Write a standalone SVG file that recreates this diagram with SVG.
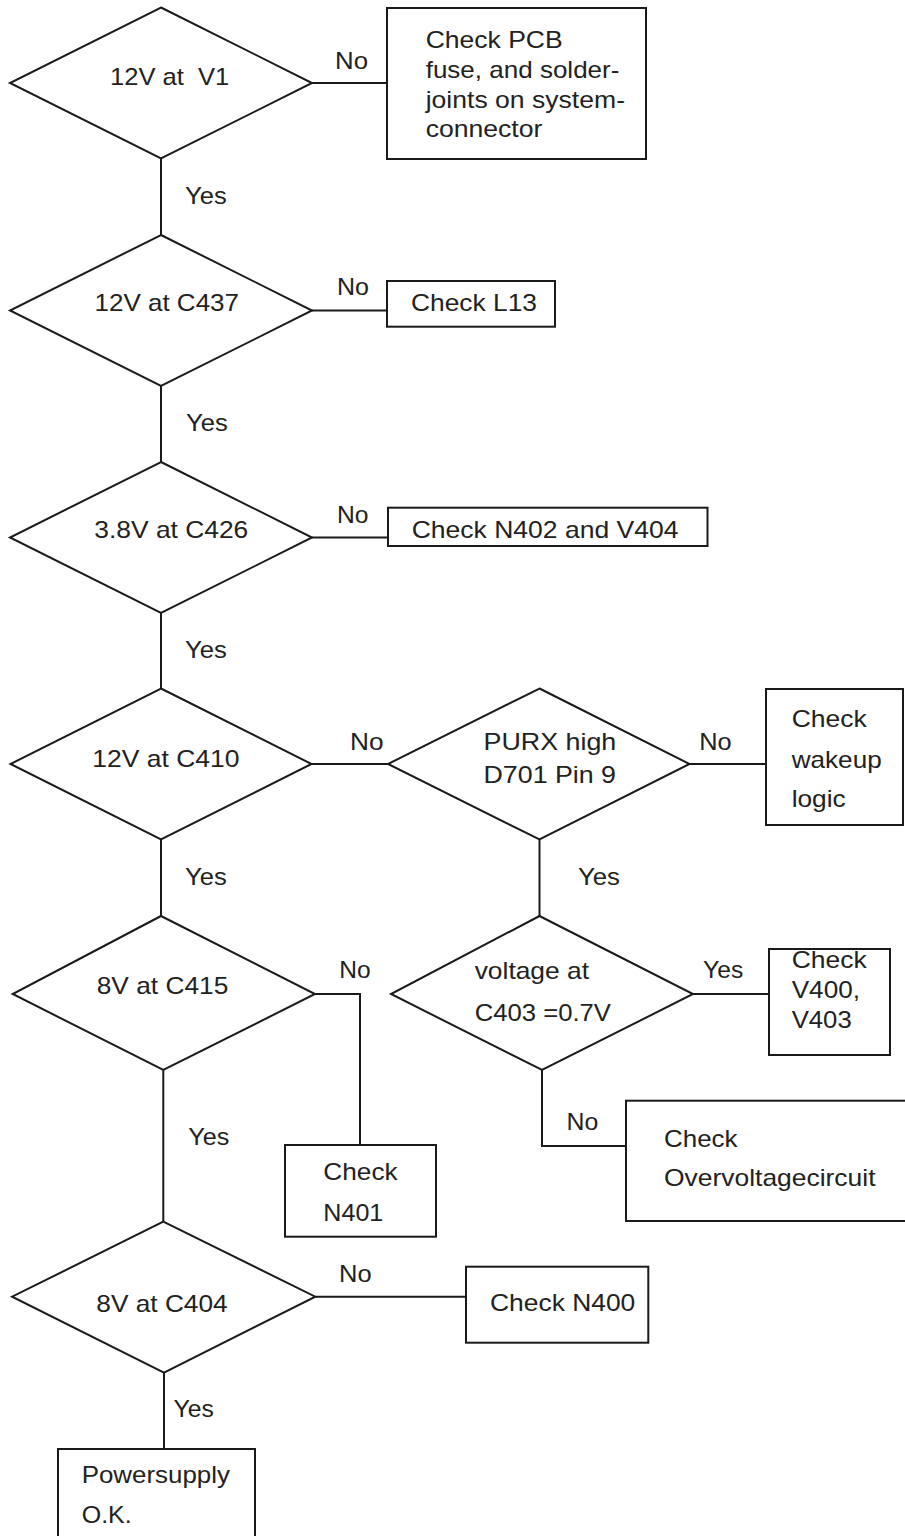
<svg xmlns="http://www.w3.org/2000/svg" width="905" height="1536" viewBox="0 0 905 1536">
  <style>
    .shape { fill: none; stroke: #1a1a1a; stroke-width: 2; stroke-linejoin: miter; }
    .wire { fill: none; stroke: #1a1a1a; stroke-width: 2; }
    .t { font-family: "Liberation Sans", Arial, sans-serif; font-size: 24px; fill: #222; }
  </style>
  <rect x="0" y="0" width="905" height="1536" fill="#ffffff"/>

  <!-- connectors -->
  <g id="connectors">
    <path class="wire" d="M312,83 H387"/>
    <path class="wire" d="M161,158.5 V235"/>
    <path class="wire" d="M312,310.5 H387"/>
    <path class="wire" d="M161,386 V462"/>
    <path class="wire" d="M312,537.5 H388"/>
    <path class="wire" d="M161,613 V688.5"/>
    <path class="wire" d="M311.5,764 H388"/>
    <path class="wire" d="M689.5,764 H766"/>
    <path class="wire" d="M161,839.5 V916"/>
    <path class="wire" d="M539.5,839.5 V916"/>
    <path class="wire" d="M693,994 H769"/>
    <path class="wire" d="M542,1070 V1146 H626"/>
    <path class="wire" d="M315,994 H360 V1145"/>
    <path class="wire" d="M163.3,1070 V1221.7"/>
    <path class="wire" d="M315.3,1296.7 H466"/>
    <path class="wire" d="M164,1372.7 V1449"/>
    <!-- branch labels -->
    <text class="t" x="335" y="69.3" textLength="33" lengthAdjust="spacingAndGlyphs">No</text>
    <text class="t" x="185" y="204.3" textLength="41.7" lengthAdjust="spacingAndGlyphs">Yes</text>
    <text class="t" x="337" y="295" textLength="32" lengthAdjust="spacingAndGlyphs">No</text>
    <text class="t" x="186" y="430.5" textLength="41.7" lengthAdjust="spacingAndGlyphs">Yes</text>
    <text class="t" x="337" y="522.7" textLength="31.5" lengthAdjust="spacingAndGlyphs">No</text>
    <text class="t" x="185" y="658" textLength="41.7" lengthAdjust="spacingAndGlyphs">Yes</text>
    <text class="t" x="350" y="750" textLength="33.5" lengthAdjust="spacingAndGlyphs">No</text>
    <text class="t" x="699.3" y="750" textLength="32.4" lengthAdjust="spacingAndGlyphs">No</text>
    <text class="t" x="185" y="885" textLength="41.7" lengthAdjust="spacingAndGlyphs">Yes</text>
    <text class="t" x="578" y="885" textLength="42" lengthAdjust="spacingAndGlyphs">Yes</text>
    <text class="t" x="339.3" y="977.7" textLength="31.4" lengthAdjust="spacingAndGlyphs">No</text>
    <text class="t" x="703" y="977.7" textLength="40.2" lengthAdjust="spacingAndGlyphs">Yes</text>
    <text class="t" x="566.5" y="1130" textLength="31.8" lengthAdjust="spacingAndGlyphs">No</text>
    <text class="t" x="188.3" y="1145" textLength="41" lengthAdjust="spacingAndGlyphs">Yes</text>
    <text class="t" x="339" y="1281.7" textLength="32.6" lengthAdjust="spacingAndGlyphs">No</text>
    <text class="t" x="173.5" y="1416.7" textLength="40.3" lengthAdjust="spacingAndGlyphs">Yes</text>
  </g>

  <!-- decisions -->
  <g id="d-v1">
    <polygon class="shape" points="161,7.5 312,83 161,158.5 10,83"/>
    <text class="t" x="110" y="85" textLength="119.3" lengthAdjust="spacingAndGlyphs">12V at&#160; V1</text>
  </g>
  <g id="d-c437">
    <polygon class="shape" points="161,235 312,310.5 161,386 10,310.5"/>
    <text class="t" x="94.5" y="311" textLength="144.5" lengthAdjust="spacingAndGlyphs">12V at C437</text>
  </g>
  <g id="d-c426">
    <polygon class="shape" points="161,462 312,537.5 161,613 10,537.5"/>
    <text class="t" x="94.3" y="538.3" textLength="154" lengthAdjust="spacingAndGlyphs">3.8V at C426</text>
  </g>
  <g id="d-c410">
    <polygon class="shape" points="161,688.5 311.5,764 161,839.5 10.5,764"/>
    <text class="t" x="92.3" y="767.3" textLength="147.2" lengthAdjust="spacingAndGlyphs">12V at C410</text>
  </g>
  <g id="d-purx">
    <polygon class="shape" points="539.5,688.5 689.5,764 539.5,839.5 388,764"/>
    <text class="t" x="483.5" y="750" textLength="132.8" lengthAdjust="spacingAndGlyphs">PURX high</text>
    <text class="t" x="483.5" y="782.7" textLength="132.5" lengthAdjust="spacingAndGlyphs">D701 Pin 9</text>
  </g>
  <g id="d-c403">
    <polygon class="shape" points="539.5,916 693,994 542,1070 391,994"/>
    <text class="t" x="474.7" y="979.3" textLength="114.3" lengthAdjust="spacingAndGlyphs">voltage at</text>
    <text class="t" x="474.7" y="1021" textLength="136.3" lengthAdjust="spacingAndGlyphs">C403 =0.7V</text>
  </g>
  <g id="d-c415">
    <polygon class="shape" points="161,916 315,994 163.3,1070 12.7,994"/>
    <text class="t" x="96.7" y="994.3" textLength="131.6" lengthAdjust="spacingAndGlyphs">8V at C415</text>
  </g>
  <g id="d-c404">
    <polygon class="shape" points="163.3,1221.7 315.3,1296.7 164,1372.7 12.1,1296.7"/>
    <text class="t" x="96.3" y="1311.7" textLength="131.4" lengthAdjust="spacingAndGlyphs">8V at C404</text>
  </g>

  <!-- actions -->
  <g id="b-fuse">
    <rect class="shape" x="387" y="8" width="259" height="151"/>
    <text class="t" x="425.7" y="48.3" textLength="137" lengthAdjust="spacingAndGlyphs">Check PCB</text>
    <text class="t" x="425.7" y="78.3" textLength="193.7" lengthAdjust="spacingAndGlyphs">fuse, and solder-</text>
    <text class="t" x="425.7" y="107.7" textLength="199.3" lengthAdjust="spacingAndGlyphs">joints on system-</text>
    <text class="t" x="425.7" y="137.3" textLength="116.7" lengthAdjust="spacingAndGlyphs">connector</text>
  </g>
  <g id="b-l13">
    <rect class="shape" x="387" y="281" width="168" height="45.7"/>
    <text class="t" x="411" y="311" textLength="126" lengthAdjust="spacingAndGlyphs">Check L13</text>
  </g>
  <g id="b-n402">
    <rect class="shape" x="388" y="507.7" width="319.5" height="38.3"/>
    <text class="t" x="411.7" y="538.3" textLength="266.8" lengthAdjust="spacingAndGlyphs">Check N402 and V404</text>
  </g>
  <g id="b-wakeup">
    <rect class="shape" x="766" y="689" width="137" height="136"/>
    <text class="t" x="791.7" y="726.7" textLength="75" lengthAdjust="spacingAndGlyphs">Check</text>
    <text class="t" x="791.7" y="767.5" textLength="90" lengthAdjust="spacingAndGlyphs">wakeup</text>
    <text class="t" x="791.7" y="806.5" textLength="54" lengthAdjust="spacingAndGlyphs">logic</text>
  </g>
  <g id="b-v400">
    <rect class="shape" x="769" y="949" width="121" height="106"/>
    <text class="t" x="791.7" y="968.3" textLength="75" lengthAdjust="spacingAndGlyphs">Check</text>
    <text class="t" x="791.7" y="998.3" textLength="68.3" lengthAdjust="spacingAndGlyphs">V400,</text>
    <text class="t" x="791.7" y="1028.3" textLength="60" lengthAdjust="spacingAndGlyphs">V403</text>
  </g>
  <g id="b-overvoltage">
    <rect class="shape" x="626" y="1100.7" width="282" height="120.3"/>
    <text class="t" x="664" y="1146.7" textLength="73.5" lengthAdjust="spacingAndGlyphs">Check</text>
    <text class="t" x="664" y="1186" textLength="211.5" lengthAdjust="spacingAndGlyphs">Overvoltagecircuit</text>
  </g>
  <g id="b-n401">
    <rect class="shape" x="285" y="1145" width="151" height="91.7"/>
    <text class="t" x="323.3" y="1180" textLength="74.3" lengthAdjust="spacingAndGlyphs">Check</text>
    <text class="t" x="323.3" y="1220.7" textLength="60" lengthAdjust="spacingAndGlyphs">N401</text>
  </g>
  <g id="b-n400">
    <rect class="shape" x="466" y="1266.7" width="182.3" height="76"/>
    <text class="t" x="490" y="1311" textLength="145.3" lengthAdjust="spacingAndGlyphs">Check N400</text>
  </g>
  <g id="b-ok">
    <rect class="shape" x="58" y="1449" width="197" height="95"/>
    <text class="t" x="81.7" y="1483.3" textLength="148.3" lengthAdjust="spacingAndGlyphs">Powersupply</text>
    <text class="t" x="81.7" y="1522.7" textLength="50" lengthAdjust="spacingAndGlyphs">O.K.</text>
  </g>
</svg>
